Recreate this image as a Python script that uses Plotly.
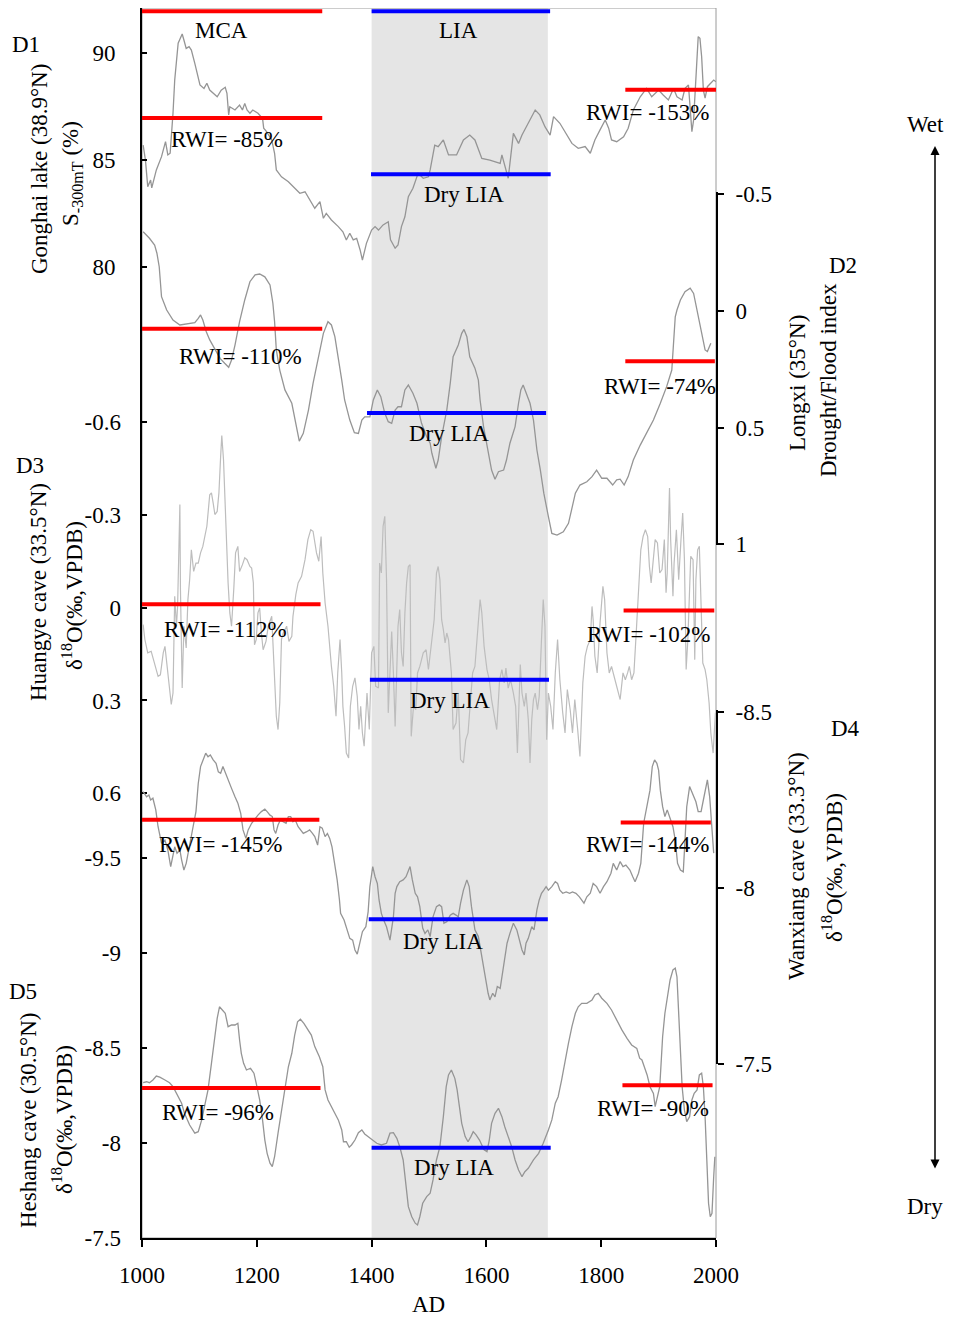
import plotly.graph_objects as go

# ---------------- data ----------------
years_d1 = [1002,1006,1010,1015,1017,1025,1034,1041,1045,1049,
            1054,1057,1063,1070,1073,1077,1082,1086,1092,1101,
            1108,1113,1118,1124,1131,1138,1145,1148,1151,1153,
            1162,1170,1175,1179,1183,1188,1193,1202,1210,1212,
            1217,1226,1231,1234,1243,1255,1263,1275,1284,1292,
            1301,1310,1316,1321,1330,1342,1350,1356,1362,1368,
            1374,1380,1384,1391,1400,1406,1412,1420,1429,1433,
            1441,1446,1452,1458,1464,1472,1481,1490,1499,1502,
            1510,1516,1525,1534,1548,1560,1571,1580,1592,1606,
            1624,1627,1632,1638,1647,1656,1662,1673,1685,1693,
            1702,1711,1717,1728,1743,1749,1760,1772,1781,1789,
            1798,1807,1813,1818,1827,1839,1847,1856,1868,1879,
            1888,1900,1908,1917,1926,1932,1941,1946,1952,1955,
            1958,1961,1965,1969,1972,1975,1978,1981,1985,1990,
            1996,2000]
gonghai = [85.71,85.01,83.77,84.08,83.71,84.55,85.17,85.87,85.25,85.33,
           87.20,88.75,90.47,90.90,90.62,90.23,90.31,90.15,89.53,88.52,
           88.36,88.60,88.28,88.13,87.97,88.28,88.41,88.13,87.12,87.50,
           87.35,87.58,87.35,87.66,87.35,87.20,87.35,87.20,86.96,86.50,
           86.34,85.95,85.33,84.55,84.23,84.00,83.77,83.46,83.53,83.14,
           82.76,83.07,82.29,82.52,82.21,81.90,81.66,81.28,81.59,81.28,
           81.35,80.81,80.34,81.12,81.74,81.90,81.74,81.98,82.13,81.28,
           80.89,81.04,81.90,82.36,83.30,83.69,84.39,84.16,84.23,84.55,
           85.71,85.64,85.95,85.25,85.25,85.95,86.18,85.95,85.09,85.01,
           84.86,85.25,84.70,84.16,86.26,85.79,86.18,86.73,87.35,87.12,
           86.57,86.18,87.04,86.73,86.10,85.79,85.56,85.64,85.33,85.95,
           86.42,86.88,86.50,85.95,85.87,86.10,86.50,87.35,87.97,88.36,
           87.97,88.28,88.05,87.82,88.36,87.97,87.82,88.36,88.52,87.35,
           86.34,86.88,89.07,90.78,90.70,89.84,88.28,87.90,88.44,88.60,
           88.75,88.67]

years_d2 = [1002,1013,1022,1026,1030,1034,1043,1054,1066,1080,
            1092,1098,1102,1106,1112,1118,1127,1136,1144,1151,
            1156,1162,1170,1179,1188,1197,1205,1214,1223,1228,
            1231,1234,1240,1249,1261,1266,1274,1281,1290,1298,
            1307,1316,1324,1330,1336,1342,1348,1353,1362,1370,
            1377,1383,1388,1397,1403,1410,1416,1423,1429,1435,
            1441,1446,1452,1458,1464,1472,1479,1487,1496,1502,
            1505,1512,1516,1522,1531,1537,1542,1551,1557,1561,
            1566,1571,1580,1586,1589,1595,1603,1609,1615,1621,
            1630,1635,1641,1650,1656,1660,1664,1670,1676,1682,
            1688,1694,1700,1708,1714,1723,1734,1743,1749,1755,
            1763,1775,1784,1792,1801,1810,1820,1827,1833,1840,
            1847,1856,1868,1880,1891,1903,1914,1923,1927,1929,
            1932,1938,1946,1955,1961,1967,1975,1981,1985,1991]
longxi = [-0.338,-0.310,-0.281,-0.246,-0.188,-0.060,-0.003,0.040,0.061,0.057,
          0.051,0.033,0.018,0.040,0.090,0.125,0.168,0.204,0.225,0.242,
          0.211,0.147,0.047,-0.046,-0.124,-0.153,-0.157,-0.145,-0.110,-0.032,
          0.047,0.168,0.254,0.339,0.396,0.454,0.558,0.525,0.425,0.311,
          0.197,0.097,0.047,0.061,0.111,0.197,0.297,0.382,0.468,0.522,
          0.525,0.468,0.454,0.454,0.382,0.339,0.368,0.439,0.475,0.482,
          0.425,0.411,0.411,0.339,0.318,0.353,0.396,0.482,0.539,0.567,
          0.610,0.674,0.639,0.539,0.425,0.311,0.197,0.147,0.097,0.080,
          0.111,0.197,0.246,0.297,0.382,0.496,0.596,0.682,0.721,0.689,
          0.682,0.639,0.567,0.496,0.396,0.339,0.318,0.353,0.396,0.468,
          0.596,0.682,0.781,0.881,0.953,0.960,0.946,0.910,0.839,0.781,
          0.746,0.732,0.710,0.682,0.717,0.717,0.746,0.724,0.721,0.746,
          0.710,0.639,0.575,0.518,0.468,0.396,0.325,0.254,0.125,0.026,
          -0.003,-0.046,-0.081,-0.096,-0.074,-0.003,0.083,0.168,0.175,0.139]

years_d3 = [1002,1005,1010,1016,1020,1028,1032,1037,1040,1044,
            1048,1051,1054,1057,1060,1062,1066,1067,1070,1073,
            1077,1080,1083,1086,1090,1094,1098,1102,1106,1113,
            1118,1121,1124,1127,1131,1134,1137,1139,1142,1146,
            1150,1153,1156,1160,1163,1167,1170,1175,1179,1183,
            1188,1191,1194,1196,1199,1202,1205,1208,1211,1216,
            1220,1226,1230,1234,1237,1240,1243,1246,1252,1256,
            1261,1263,1268,1272,1278,1284,1289,1294,1298,1304,
            1308,1312,1315,1319,1324,1327,1330,1334,1338,1341,
            1345,1348,1350,1353,1356,1360,1363,1367,1371,1375,
            1378,1381,1384,1387,1390,1392,1396,1400,1404,1407,
            1412,1414,1417,1420,1423,1426,1429,1432,1435,1438,
            1441,1444,1446,1449,1452,1455,1458,1461,1464,1467,
            1469,1473,1477,1480,1484,1490,1495,1499,1505,1509,
            1513,1516,1519,1522,1525,1528,1531,1534,1537,1539,
            1542,1547,1551,1555,1560,1564,1568,1571,1576,1580,
            1584,1589,1592,1596,1601,1605,1609,1613,1618,1623,
            1627,1631,1634,1638,1642,1647,1651,1654,1656,1659,
            1662,1666,1669,1673,1676,1679,1682,1685,1689,1692,
            1696,1699,1702,1705,1708,1712,1716,1720,1724,1728,
            1733,1737,1741,1746,1750,1754,1759,1763,1768,1772,
            1776,1781,1784,1786,1789,1793,1798,1803,1806,1810,
            1814,1818,1824,1828,1833,1838,1842,1846,1849,1853,
            1857,1861,1865,1869,1873,1877,1881,1884,1887,1890,
            1894,1898,1902,1906,1910,1913,1915,1919,1921,1925,
            1927,1931,1935,1939,1942,1945,1948,1951,1954,1956,
            1960,1963,1965,1968,1971,1974,1977,1981,1984,1988,
            1991,1995,1997,1999]
huangye = [0.055,0.103,0.146,0.141,0.168,0.222,0.217,0.146,0.125,0.190,
           0.276,0.313,0.276,-0.037,0.060,-0.004,-0.333,-0.058,0.260,0.060,
           0.130,-0.026,-0.090,-0.187,-0.117,-0.144,-0.144,-0.177,-0.198,-0.263,
           -0.365,-0.371,-0.338,-0.301,-0.311,-0.371,-0.489,-0.556,-0.478,-0.274,
           -0.080,0.017,0.060,-0.064,-0.177,-0.198,-0.117,-0.139,-0.161,-0.155,
           -0.133,-0.128,-0.080,0.120,0.103,0.017,0.001,0.082,0.136,0.109,
           0.060,0.028,0.211,0.351,0.394,0.308,0.103,0.082,0.060,0.109,
           0.093,0.028,-0.042,-0.080,-0.101,-0.155,-0.220,-0.252,-0.247,-0.177,
           -0.150,-0.230,-0.112,-0.015,0.060,0.136,0.190,0.254,0.351,0.211,
           0.103,0.211,0.319,0.384,0.470,0.486,0.319,0.254,0.227,0.287,
           0.394,0.319,0.405,0.448,0.340,0.276,0.394,0.146,0.125,0.254,
           0.260,-0.144,-0.112,-0.263,-0.295,-0.090,0.340,0.211,0.077,0.211,
           0.384,0.190,0.060,0.006,0.146,0.190,0.017,-0.080,-0.133,-0.139,
           0.416,0.319,0.330,0.211,0.190,0.146,0.136,0.200,0.103,0.039,
           -0.112,-0.133,-0.090,0.039,0.071,0.114,0.082,0.103,0.168,0.211,
           0.394,0.373,0.276,0.491,0.502,0.427,0.405,0.319,0.211,0.190,
           0.082,-0.026,0.017,0.125,0.200,0.233,0.297,0.340,0.394,0.233,
           0.200,0.243,0.195,0.260,0.233,0.276,0.319,0.470,0.340,0.184,
           0.276,0.319,0.276,0.362,0.502,0.362,0.297,0.276,0.330,0.287,
           0.103,-0.026,0.060,0.427,0.276,0.319,0.394,0.211,0.103,0.233,
           0.340,0.405,0.265,0.330,0.405,0.297,0.394,0.481,0.243,0.157,
           0.125,0.103,-0.004,0.039,0.157,0.211,0.049,-0.069,-0.026,0.146,
           0.211,0.190,0.233,0.265,0.297,0.211,0.233,0.211,0.190,0.233,
           0.211,0.082,-0.037,-0.187,-0.230,-0.252,-0.230,-0.133,-0.080,-0.144,
           -0.220,-0.209,-0.112,-0.123,-0.220,-0.048,-0.112,-0.387,-0.220,-0.037,
           -0.144,-0.252,-0.090,-0.220,-0.306,-0.155,0.200,0.103,-0.026,-0.166,
           -0.155,0.168,-0.090,-0.187,-0.198,-0.004,0.179,0.200,0.233,0.308,
           0.405,0.470,0.384,0.340]

years_d4 = [1002,1008,1012,1015,1019,1024,1028,1034,1040,1045,
            1050,1053,1057,1061,1066,1069,1073,1077,1083,1089,
            1094,1098,1102,1106,1111,1115,1119,1124,1129,1133,
            1137,1141,1146,1150,1156,1162,1167,1172,1176,1181,
            1185,1191,1197,1202,1208,1214,1218,1223,1227,1230,
            1233,1237,1241,1246,1251,1255,1259,1263,1267,1272,
            1276,1281,1287,1292,1297,1301,1306,1310,1314,1319,
            1323,1327,1331,1336,1340,1344,1346,1352,1356,1362,
            1367,1371,1375,1380,1384,1390,1394,1397,1402,1406,
            1410,1413,1417,1421,1426,1432,1438,1441,1444,1449,
            1455,1460,1464,1467,1471,1476,1480,1484,1489,1493,
            1498,1502,1507,1513,1518,1522,1526,1531,1537,1542,
            1547,1551,1555,1560,1566,1570,1574,1580,1586,1590,
            1595,1599,1603,1606,1611,1615,1619,1624,1628,1632,
            1636,1641,1647,1653,1657,1662,1666,1669,1673,1679,
            1683,1688,1692,1696,1700,1704,1708,1714,1720,1724,
            1728,1733,1739,1745,1750,1756,1762,1770,1775,1781,
            1786,1792,1798,1804,1810,1817,1821,1827,1833,1838,
            1843,1850,1855,1859,1865,1869,1874,1880,1885,1889,
            1893,1897,1900,1903,1907,1911,1915,1920,1925,1929,
            1933,1938,1943,1946,1949,1954,1958,1962,1965,1969,
            1974,1978,1981,1985,1989,1993,1996]
wanxiang = [-8.274,-8.259,-8.264,-8.250,-8.255,-8.222,-8.174,-8.127,-8.136,-8.108,
            -8.061,-8.089,-8.117,-8.099,-8.108,-8.080,-8.051,-8.070,-8.127,-8.174,
            -8.217,-8.297,-8.345,-8.364,-8.383,-8.373,-8.378,-8.364,-8.354,-8.330,
            -8.326,-8.345,-8.326,-8.307,-8.283,-8.259,-8.241,-8.212,-8.165,-8.141,
            -8.165,-8.184,-8.198,-8.207,-8.217,-8.224,-8.217,-8.207,-8.203,-8.165,
            -8.155,-8.179,-8.193,-8.188,-8.184,-8.203,-8.203,-8.188,-8.193,-8.174,
            -8.165,-8.155,-8.160,-8.165,-8.155,-8.146,-8.122,-8.174,-8.170,-8.146,
            -8.155,-8.141,-8.117,-8.070,-8.023,-7.966,-7.928,-7.909,-7.890,-7.857,
            -7.852,-7.824,-7.812,-7.843,-7.876,-7.890,-7.933,-8.004,-8.061,-8.032,
            -8.013,-7.966,-7.928,-7.909,-7.890,-7.852,-7.918,-7.985,-8.004,-8.018,
            -8.023,-8.032,-8.051,-8.061,-8.023,-7.985,-7.975,-7.947,-7.886,-7.871,
            -7.881,-7.862,-7.918,-7.947,-7.952,-7.947,-7.900,-7.904,-7.923,-7.928,
            -7.923,-7.918,-7.957,-7.994,-8.023,-8.004,-7.947,-7.881,-7.862,-7.824,
            -7.767,-7.729,-7.701,-7.682,-7.701,-7.691,-7.720,-7.715,-7.758,-7.795,
            -7.843,-7.871,-7.900,-7.881,-7.852,-7.824,-7.810,-7.843,-7.857,-7.890,
            -7.881,-7.938,-7.966,-7.985,-7.994,-8.004,-7.994,-8.004,-8.018,-8.013,
            -7.994,-7.985,-7.989,-7.985,-7.989,-7.985,-7.975,-7.957,-7.975,-7.985,
            -8.013,-8.004,-7.985,-8.004,-8.018,-8.042,-8.070,-8.051,-8.075,-8.061,
            -8.065,-8.051,-8.032,-8.018,-8.042,-8.070,-8.184,-8.231,-8.278,-8.345,
            -8.364,-8.354,-8.335,-8.278,-8.231,-8.203,-8.222,-8.198,-8.174,-8.136,
            -8.070,-8.051,-8.046,-8.136,-8.231,-8.288,-8.274,-8.259,-8.245,-8.217,
            -8.217,-8.250,-8.274,-8.307,-8.259,-8.155,-8.099]

years_d5 = [1002,1008,1013,1019,1025,1031,1040,1048,1054,1060,
            1069,1074,1083,1092,1098,1104,1109,1115,1121,1127,
            1131,1135,1140,1145,1150,1156,1162,1167,1170,1173,
            1177,1182,1189,1195,1199,1205,1210,1214,1218,1223,
            1227,1231,1237,1243,1249,1255,1261,1266,1271,1276,
            1282,1288,1295,1301,1309,1315,1319,1324,1330,1336,
            1342,1348,1351,1356,1361,1365,1371,1377,1383,1388,
            1394,1402,1409,1417,1426,1432,1438,1444,1449,1455,
            1460,1464,1470,1476,1480,1484,1489,1496,1502,1507,
            1513,1519,1525,1530,1534,1539,1545,1549,1553,1557,
            1563,1568,1573,1577,1582,1588,1592,1596,1601,1605,
            1609,1615,1621,1627,1632,1638,1644,1650,1656,1662,
            1667,1673,1682,1691,1699,1708,1714,1720,1725,1731,
            1737,1743,1749,1755,1760,1766,1775,1784,1789,1795,
            1801,1810,1818,1827,1836,1845,1853,1862,1867,1871,
            1875,1880,1885,1891,1894,1898,1902,1904,1907,1911,
            1915,1920,1925,1929,1932,1935,1938,1941,1945,1949,
            1954,1958,1962,1967,1971,1975,1978,1981,1984,1987,
            1990,1993,1996,1998]
heshang = [-8.318,-8.323,-8.318,-8.332,-8.353,-8.347,-8.332,-8.318,-8.297,-8.262,
           -8.210,-8.157,-8.095,-8.052,-8.060,-8.122,-8.192,-8.280,-8.420,-8.560,
           -8.657,-8.718,-8.701,-8.684,-8.613,-8.622,-8.622,-8.631,-8.543,-8.473,
           -8.420,-8.385,-8.394,-8.368,-8.315,-8.227,-8.122,-8.016,-7.946,-7.894,
           -7.876,-7.928,-8.052,-8.174,-8.297,-8.402,-8.473,-8.569,-8.639,-8.652,
           -8.631,-8.605,-8.569,-8.508,-8.455,-8.402,-8.280,-8.227,-8.192,-8.157,
           -8.122,-8.069,-8.007,-8.007,-7.978,-7.990,-8.016,-8.055,-8.069,-8.048,
           -8.034,-8.016,-7.999,-7.990,-7.999,-8.052,-8.055,-8.025,-7.981,-7.911,
           -7.770,-7.665,-7.612,-7.578,-7.569,-7.612,-7.683,-7.718,-7.736,-7.806,
           -7.911,-7.981,-8.139,-8.297,-8.359,-8.385,-8.341,-8.280,-8.192,-8.104,
           -8.034,-8.007,-8.034,-8.060,-8.043,-8.016,-7.990,-7.964,-7.955,-8.016,
           -8.104,-8.157,-8.183,-8.139,-8.086,-8.034,-7.981,-7.911,-7.858,-7.823,
           -7.849,-7.867,-7.911,-7.946,-7.999,-8.069,-8.122,-8.210,-8.244,-8.332,
           -8.438,-8.526,-8.613,-8.684,-8.718,-8.736,-8.736,-8.754,-8.780,-8.789,
           -8.763,-8.736,-8.701,-8.648,-8.596,-8.552,-8.517,-8.499,-8.447,-8.438,
           -8.402,-8.359,-8.297,-8.262,-8.192,-8.244,-8.297,-8.402,-8.560,-8.684,
           -8.754,-8.859,-8.912,-8.921,-8.876,-8.701,-8.473,-8.297,-8.174,-8.113,
           -8.139,-8.227,-8.262,-8.280,-8.359,-8.368,-8.297,-8.139,-7.911,-7.683,
           -7.612,-7.630,-7.823,-7.928]

# periods
mca_years = [1000, 1314]
lia_years = [1400, 1711]
lia_shade = [1400, 1707]

# RWI / Dry-LIA reference levels per record: (start year, end year, level)
d1_rwi_left = (1000, 1314, 86.98)
d1_dry_lia = (1399, 1712, 84.35)
d1_rwi_right = (1842, 2000, 88.30)
d1_period_level = 91.96
d2_rwi_left = (1000, 1314, 0.077)
d2_dry_lia = (1392, 1704, 0.438)
d2_rwi_right = (1842, 1998, 0.2165)
d3_rwi_left = (1000, 1311, -0.011)
d3_dry_lia = (1397, 1709, 0.233)
d3_rwi_right = (1839, 1997, 0.009)
d4_rwi_left = (1000, 1309, -8.194)
d4_dry_lia = (1395, 1707, -7.911)
d4_rwi_right = (1834, 1991, -8.186)
d5_rwi_left = (1000, 1311, -8.290)
d5_dry_lia = (1400, 1712, -7.976)
d5_rwi_right = (1837, 1994, -8.304)

d1_ticks = [80, 85, 90]
d2_ticks = [-0.5, 0, 0.5, 1]
d3_ticks = [-0.6, -0.3, 0, 0.3, 0.6]
d4_ticks = [-8.5, -8, -7.5]
d5_ticks = [-9.5, -9, -8.5, -8, -7.5]
x_ticks = [1000, 1200, 1400, 1600, 1800, 2000]

# ---------------- figure ----------------
# The page body adds an 8px offset; the figure is sized so that the
# screenshot (953x1318) matches the reference layout.
OFF = 8
SW, SH = 953, 1318                 # screen size
W, H = SW - OFF, SH - OFF          # figure size
P_LEFT, P_RIGHT, P_TOP, P_BOT = 142, 716, 8, 1238   # plot area on screen
L = P_LEFT - OFF
R = W - (P_RIGHT - OFF)
T = P_TOP - OFF
B = H - (P_BOT - OFF)
PW = P_RIGHT - P_LEFT
PH = P_BOT - P_TOP
FONT = "Liberation Serif"
CURVE = "#959595"
CURVE_LIGHT = "#bdbdbd"
RED = "#ff0000"
BLUE = "#0000ff"


def pp(px, py):
    """screen pixel -> paper fraction"""
    return (px - P_LEFT) / PW, (P_BOT - py) / PH


def lab(v):
    return "%g" % v


fig = go.Figure()

curves = [
    (years_d1, gonghai, "y", CURVE, 1.3),
    (years_d2, longxi, "y4", CURVE, 1.3),
    (years_d3, huangye, "y2", CURVE_LIGHT, 1.2),
    (years_d4, wanxiang, "y5", CURVE, 1.3),
    (years_d5, heshang, "y3", CURVE, 1.3),
]
for xs, ys, ax, col, w in curves:
    fig.add_trace(go.Scatter(x=xs, y=ys, yaxis=ax, mode="lines",
                             line=dict(color=col, width=w), hoverinfo="skip"))

segments = [
    (d1_rwi_left, "y", RED), (d1_dry_lia, "y", BLUE), (d1_rwi_right, "y", RED),
    ((mca_years[0], mca_years[1], d1_period_level), "y", RED),
    ((lia_years[0], lia_years[1], d1_period_level), "y", BLUE),
    (d2_rwi_left, "y4", RED), (d2_dry_lia, "y4", BLUE), (d2_rwi_right, "y4", RED),
    (d3_rwi_left, "y2", RED), (d3_dry_lia, "y2", BLUE), (d3_rwi_right, "y2", RED),
    (d4_rwi_left, "y5", RED), (d4_dry_lia, "y5", BLUE), (d4_rwi_right, "y5", RED),
    (d5_rwi_left, "y3", RED), (d5_dry_lia, "y3", BLUE), (d5_rwi_right, "y3", RED),
]
for (x0, x1, lv), ax, col in segments:
    fig.add_trace(go.Scatter(x=[x0, x1], y=[lv, lv], yaxis=ax, mode="lines",
                             line=dict(color=col, width=4), hoverinfo="skip"))

fig.add_vrect(x0=lia_shade[0], x1=lia_shade[1], fillcolor="#e5e5e5",
              line_width=0, layer="below")
fig.add_shape(type="rect", xref="paper", yref="paper", x0=0, x1=1, y0=0, y1=1,
              line=dict(color="#9a9a9a", width=1), layer="below")

tickfont = dict(family=FONT, size=23, color="black")
common_left = dict(showgrid=False, zeroline=False, ticks="inside", ticklen=5,
                   tickwidth=1.5, tickcolor="black", tickfont=tickfont,
                   automargin=False, ticklabelstandoff=20, side="left")
common_right = dict(showgrid=False, zeroline=False, ticks="outside", ticklen=6,
                    tickwidth=1.5, tickcolor="black", tickfont=tickfont,
                    automargin=False, ticklabelstandoff=7, side="right",
                    showline=True, linecolor="black", linewidth=2, anchor="x")

# full-height axes: value ranges that put the ticks where the reference has them
d1_range = [90 - (P_BOT - 53.3) / 21.4, 90 + (53.3 - P_TOP) / 21.4]
d3_range = [0.6 + (P_BOT - 793.3) / 309.4, -0.6 - (422 - P_TOP) / 309.4]
d5_range = [-7.5, -9.5 - (858.3 - P_TOP) / 189.85]

fig.update_layout(
    width=W, height=H,
    margin=dict(l=L, r=R, t=T, b=B, pad=0, autoexpand=False),
    paper_bgcolor="white", plot_bgcolor="rgba(0,0,0,0)",
    showlegend=False,
    xaxis=dict(range=[1000, 2000], tickvals=x_ticks,
               ticktext=[str(v) for v in x_ticks],
               showgrid=False, zeroline=False, showline=True,
               linecolor="black", linewidth=2, ticks="outside", ticklen=7,
               tickwidth=1.5, tickcolor="black", tickfont=tickfont,
               automargin=False, ticklabelstandoff=8, anchor="y"),
    yaxis=dict(range=d1_range, tickvals=d1_ticks,
               ticktext=[lab(v) for v in d1_ticks], showline=True,
               linecolor="black", linewidth=2, **common_left),
    yaxis2=dict(range=d3_range, tickvals=d3_ticks,
                ticktext=[lab(v) for v in d3_ticks], overlaying="y",
                showline=False, **common_left),
    yaxis3=dict(range=d5_range, tickvals=d5_ticks,
                ticktext=[lab(v) for v in d5_ticks], overlaying="y",
                showline=False, **common_left),
    yaxis4=dict(domain=[pp(0, 545)[1], pp(0, 192)[1]],
                range=[(545 - 310.7) / 233.7, (192 - 310.7) / 233.7],
                tickvals=d2_ticks, ticktext=[lab(v) for v in d2_ticks],
                **common_right),
    yaxis5=dict(domain=[pp(0, 1064)[1], pp(0, 710)[1]],
                range=[-8 + (1064 - 888) / 352, -8 + (710 - 888) / 352],
                tickvals=d4_ticks, ticktext=[lab(v) for v in d4_ticks],
                **common_right),
)

anno_font = dict(family=FONT, size=23, color="black")
labels = [
    ("MCA", 221.7, 30), ("LIA", 458.7, 30),
    ("RWI= -85%", 227, 140), ("Dry LIA", 463.7, 195), ("RWI= -153%", 647.2, 113),
    ("RWI= -110%", 240.5, 357), ("Dry LIA", 449, 434), ("RWI= -74%", 660, 386),
    ("RWI= -112%", 225, 630), ("Dry LIA", 449.5, 700), ("RWI= -102%", 648.3, 634),
    ("RWI= -145%", 220.8, 845), ("Dry LIA", 443, 942), ("RWI= -144%", 647, 845),
    ("RWI= -96%", 217.8, 1112), ("Dry LIA", 453.5, 1167), ("RWI= -90%", 652.7, 1108),
    ("D1", 26, 45), ("D3", 30, 466), ("D5", 23, 991), ("D2", 843, 265), ("D4", 845, 728),
    ("Wet", 925, 125), ("Dry", 925, 1206), ("AD", 428, 1304),
]
for txt, px, py in labels:
    x, y = pp(px, py)
    fig.add_annotation(x=x, y=y, xref="paper", yref="paper", text=txt,
                       showarrow=False, font=anno_font,
                       xanchor="center", yanchor="middle")

vlabels = [
    ("Gonghai lake (38.9°N)", 40, 169),
    ("S<sub>-300mT</sub> (%)", 72, 174),
    ("Huangye cave (33.5°N)", 38, 592),
    ("δ<sup>18</sup>O(‰,VPDB)", 72, 596),
    ("Heshang cave (30.5°N)", 28, 1121),
    ("δ<sup>18</sup>O(‰,VPDB)", 62, 1120),
    ("Longxi (35°N)", 797, 383),
    ("Drought/Flood index", 828, 380),
    ("Wanxiang cave (33.3°N)", 797, 866),
    ("δ<sup>18</sup>O(‰,VPDB)", 832, 867),
]
for txt, px, py in vlabels:
    x, y = pp(px, py)
    fig.add_annotation(x=x, y=y, xref="paper", yref="paper", text=txt,
                       showarrow=False, font=anno_font, textangle=-90,
                       xanchor="center", yanchor="middle")

# wet/dry double-headed arrow
ax_, ay_ = pp(935, 146)
fig.add_annotation(x=ax_, y=ay_, xref="paper", yref="paper", text="",
                   showarrow=True, ax=0, ay=1170 - 146, axref="pixel", ayref="pixel",
                   arrowhead=2, startarrowhead=2, arrowside="end+start",
                   arrowsize=1.2, arrowwidth=1.5, arrowcolor="black")

fig.write_html("out.html")
